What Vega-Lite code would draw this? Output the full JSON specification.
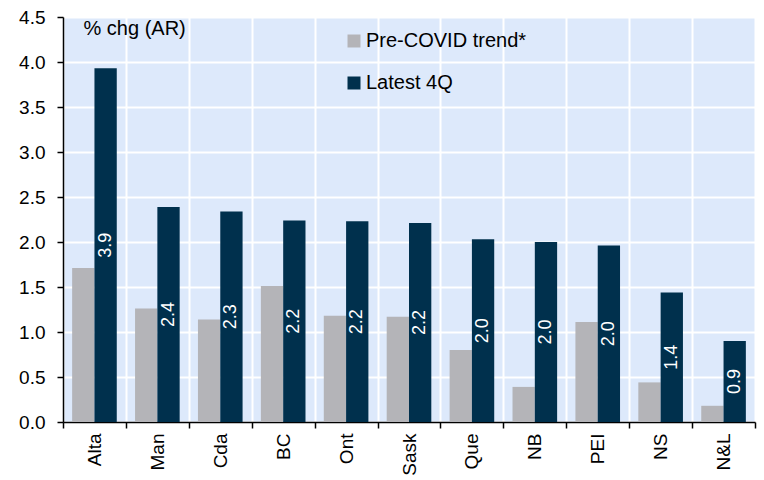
{
  "$schema": "https://vega.github.io/schema/vega-lite/v6.json",
  "width": 692,
  "height": 405,
  "autosize": "none",
  "padding": {"left": 63, "top": 17, "right": 9, "bottom": 58},
  "background": "white",
  "config": {
    "font": "Liberation Sans",
    "view": {"fill": "#dde9fb", "stroke": null}
  },
  "data": {
    "values": [
      {"prov": "Alta", "series": "Pre-COVID trend*", "value": 1.71},
      {"prov": "Alta", "series": "Latest 4Q", "value": 3.93},
      {"prov": "Man", "series": "Pre-COVID trend*", "value": 1.26},
      {"prov": "Man", "series": "Latest 4Q", "value": 2.39},
      {"prov": "Cda", "series": "Pre-COVID trend*", "value": 1.14},
      {"prov": "Cda", "series": "Latest 4Q", "value": 2.34},
      {"prov": "BC", "series": "Pre-COVID trend*", "value": 1.51},
      {"prov": "BC", "series": "Latest 4Q", "value": 2.24},
      {"prov": "Ont", "series": "Pre-COVID trend*", "value": 1.18},
      {"prov": "Ont", "series": "Latest 4Q", "value": 2.23},
      {"prov": "Sask", "series": "Pre-COVID trend*", "value": 1.17},
      {"prov": "Sask", "series": "Latest 4Q", "value": 2.21},
      {"prov": "Que", "series": "Pre-COVID trend*", "value": 0.8},
      {"prov": "Que", "series": "Latest 4Q", "value": 2.03},
      {"prov": "NB", "series": "Pre-COVID trend*", "value": 0.39},
      {"prov": "NB", "series": "Latest 4Q", "value": 2.0},
      {"prov": "PEI", "series": "Pre-COVID trend*", "value": 1.11},
      {"prov": "PEI", "series": "Latest 4Q", "value": 1.96},
      {"prov": "NS", "series": "Pre-COVID trend*", "value": 0.44},
      {"prov": "NS", "series": "Latest 4Q", "value": 1.44},
      {"prov": "N&L", "series": "Pre-COVID trend*", "value": 0.18},
      {"prov": "N&L", "series": "Latest 4Q", "value": 0.9}
    ]
  },
  "layer": [
    {
      "mark": {"type": "bar"},
      "encoding": {
        "x": {
          "field": "prov",
          "type": "nominal",
          "sort": null,
          "scale": {"paddingInner": 0, "paddingOuter": 0},
          "axis": {
            "title": null,
            "labelAngle": 270,
            "labelAlign": "right",
            "labelBaseline": "middle",
            "labelFontSize": 19,
            "labelColor": "black",
            "labelPadding": 5,
            "tickBand": "extent",
            "grid": true,
            "gridColor": "white",
            "gridWidth": 2,
            "gridOpacity": 1,
            "tickColor": "black",
            "tickSize": 6,
            "tickWidth": 1.5,
            "domainColor": "black",
            "domainWidth": 1.5
          }
        },
        "xOffset": {
          "field": "series",
          "type": "nominal",
          "scale": {"domain": ["Pre-COVID trend*", "Latest 4Q"], "paddingOuter": 0.41, "paddingInner": 0}
        },
        "y": {
          "field": "value",
          "type": "quantitative",
          "scale": {"domain": [0, 4.5], "nice": false},
          "axis": {
            "title": "% chg (AR)",
            "titleAngle": 0,
            "titleAlign": "left",
            "titleBaseline": "middle",
            "titleX": 20,
            "titleY": 11,
            "titleFontSize": 20,
            "titleFontWeight": "normal",
            "titleColor": "black",
            "values": [0, 0.5, 1, 1.5, 2, 2.5, 3, 3.5, 4, 4.5],
            "format": ".1f",
            "labelFontSize": 19,
            "labelColor": "black",
            "labelPadding": 12,
            "tickColor": "black",
            "tickSize": 6,
            "tickWidth": 1.5,
            "domainColor": "black",
            "domainWidth": 1.5,
            "gridColor": "white",
            "gridWidth": 2,
            "gridOpacity": 1
          }
        },
        "color": {
          "field": "series",
          "type": "nominal",
          "scale": {"domain": ["Pre-COVID trend*", "Latest 4Q"], "range": ["#b4b4b8", "#00304d"]},
          "legend": {
            "title": null,
            "orient": "none",
            "legendX": 281,
            "legendY": 14,
            "direction": "vertical",
            "symbolType": "square",
            "symbolSize": 169,
            "symbolStrokeWidth": 0,
            "labelFontSize": 20,
            "labelColor": "black",
            "labelOffset": 2,
            "labelLimit": 0,
            "rowPadding": 22
          }
        }
      }
    },
    {
      "transform": [{"filter": "datum.series == 'Latest 4Q'"}],
      "mark": {"type": "text", "angle": 270, "color": "white", "fontSize": 18, "align": "center", "baseline": "middle"},
      "encoding": {
        "x": {"field": "prov", "type": "nominal", "sort": null},
        "xOffset": {"field": "series", "type": "nominal"},
        "y": {"field": "value", "type": "quantitative", "scale": {"domain": [0, 9], "nice": false}, "axis": null},
        "text": {"field": "value", "type": "quantitative", "format": ".1f"}
      }
    }
  ],
  "resolve": {"scale": {"y": "independent"}}
}
